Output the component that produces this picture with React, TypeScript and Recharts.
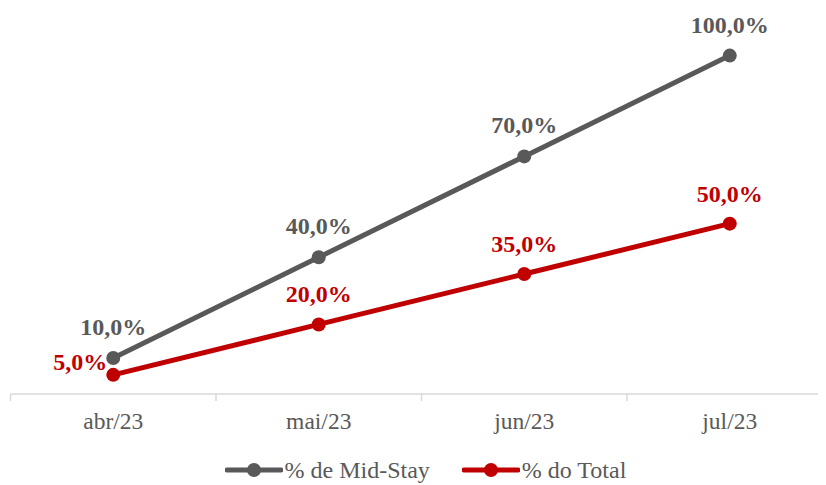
import React from "react";
import {
  LineChart,
  Line,
  XAxis,
  YAxis,
  LabelList,
  Legend,
} from "recharts";

// months shown on the x axis
const months = ["abr/23", "mai/23", "jun/23", "jul/23"];
// % de Mid-Stay
const midStay = [10, 40, 70, 100];
// % do Total
const doTotal = [5, 20, 35, 50];

const GRAY = "#595959";
const RED = "#C00000";
const FONT = "'Liberation Serif', 'Times New Roman', serif";

const data = months.map((m, i) => ({
  month: m,
  midStay: midStay[i],
  total: doTotal[i],
}));

const fmt = (v: number) => `${v.toFixed(1).replace(".", ",")}%`;

const BAND = 205.5;

const MonthTick = ({ x, y, payload }: any) => (
  <g>
    <line x1={x - BAND / 2} y1={y - 8} x2={x - BAND / 2} y2={y - 1} stroke="#D9D9D9" strokeWidth={1.5} />
    <text x={x} y={y + 27} textAnchor="middle" fill={GRAY} fontSize={23.5} fontFamily={FONT}>
      {payload.value}
    </text>
  </g>
);

const GrayLabel = ({ x, y, value }: any) => (
  <text x={x} y={y - 23} textAnchor="middle" fill={GRAY} fontSize={24} fontWeight="bold" fontFamily={FONT}>
    {fmt(value)}
  </text>
);

const RedLabel = ({ x, y, value, index }: any) => {
  if (index === 0) {
    return (
      <text x={x - 6} y={y - 5} textAnchor="end" fill={RED} fontSize={24} fontWeight="bold" fontFamily={FONT}>
        {fmt(value)}
      </text>
    );
  }
  return (
    <text x={x} y={y - 22} textAnchor="middle" fill={RED} fontSize={24} fontWeight="bold" fontFamily={FONT}>
      {fmt(value)}
    </text>
  );
};

const legendItems = [
  { name: "% de Mid-Stay", color: GRAY },
  { name: "% do Total", color: RED },
];

const CustomLegend = () => (
  <div
    style={{
      height: 44,
      paddingTop: 14,
      boxSizing: "border-box",
      display: "flex",
      alignItems: "center",
      gap: 32,
      fontFamily: FONT,
      fontSize: 24,
      color: GRAY,
      paddingLeft: 214,
    }}
  >
    {legendItems.map((it) => (
      <div key={it.name} style={{ display: "flex", alignItems: "center" }}>
        <svg width={58} height={16} style={{ marginRight: 2 }}>
          <line x1={2} y1={8} x2={56} y2={8} stroke={it.color} strokeWidth={5} strokeLinecap="round" />
          <circle cx={29} cy={8} r={7} fill={it.color} />
        </svg>
        <span>{it.name}</span>
      </div>
    ))}
  </div>
);

export default function App() {
  return (
    <div style={{ width: 818, height: 477, overflow: "hidden" }}>
      <LineChart
        width={825}
        height={477}
        data={data}
        margin={{ top: 14, right: 0.5, bottom: 0, left: 2.5 }}
      >
        <XAxis
          dataKey="month"
          axisLine={{ stroke: "#D9D9D9", strokeWidth: 1.5 }}
          tickLine={false}
          tick={<MonthTick />}
          height={47}
          interval={0}
          padding={{ left: BAND / 2, right: BAND / 2 }}
        />
        <YAxis hide domain={[-0.7, 110]} />
        <Legend verticalAlign="bottom" content={<CustomLegend />} />
        <Line
          dataKey="midStay"
          name="% de Mid-Stay"
          stroke={GRAY}
          strokeWidth={5}
          dot={{ r: 7, fill: GRAY, stroke: GRAY, strokeWidth: 0 }}
          isAnimationActive={false}
        >
          <LabelList dataKey="midStay" content={<GrayLabel />} />
        </Line>
        <Line
          dataKey="total"
          name="% do Total"
          stroke={RED}
          strokeWidth={5}
          dot={{ r: 7, fill: RED, stroke: RED, strokeWidth: 0 }}
          isAnimationActive={false}
        >
          <LabelList dataKey="total" content={<RedLabel />} />
        </Line>
      </LineChart>
    </div>
  );
}
